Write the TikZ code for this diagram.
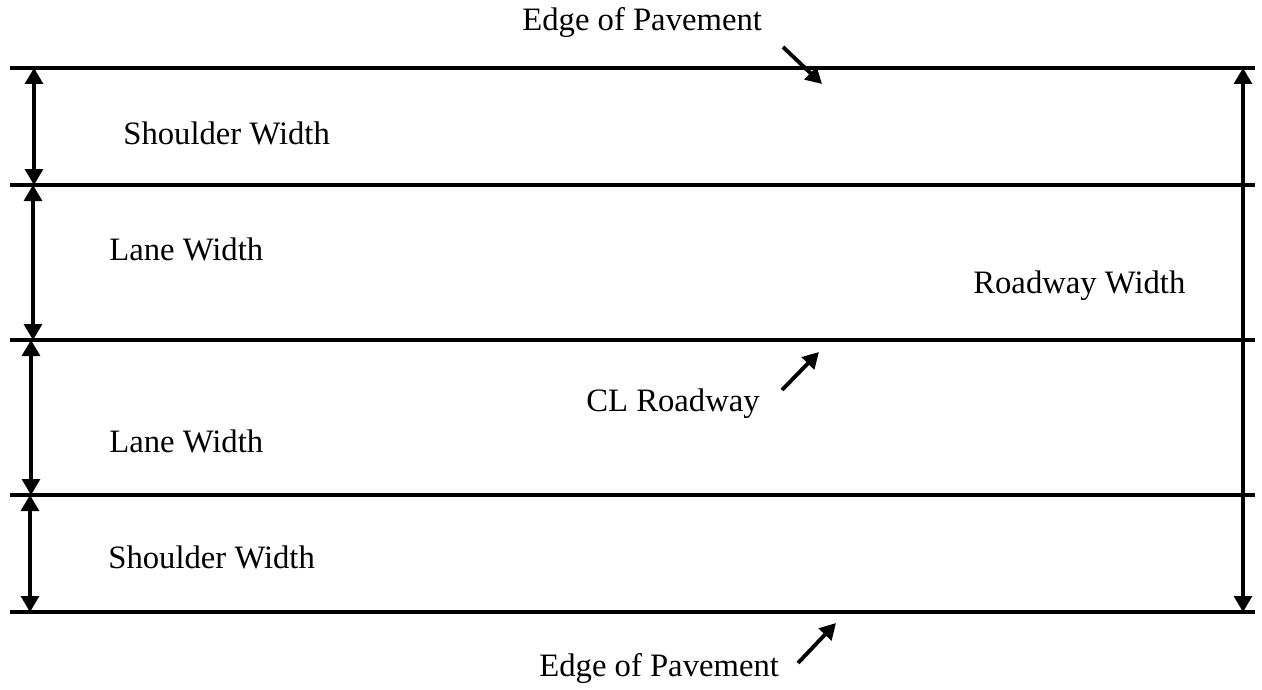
\documentclass[tikz,border=0pt]{standalone}
\usepackage{fontspec}
\setmainfont{Liberation Serif}
\usetikzlibrary{arrows.meta}

\tikzset{
  road/.style={line width=2.2pt},
  dim/.style={line width=1.8pt,{Triangle[length=0.32cm,width=0.36cm]}-{Triangle[length=0.32cm,width=0.36cm]}},
  pointer/.style={line width=2.2pt,-{Triangle[length=0.32cm,width=0.34cm]}},
  lbl/.style={font=\fontsize{18.6}{22}\selectfont,inner sep=0pt}
}

\begin{document}
\begin{tikzpicture}[x=0.02cm,y=-0.02cm]
\useasboundingbox (0,0) rectangle (1262,690);
% edges of the strips
\draw[road] (10,68) -- (1255,68);
\draw[road] (10,185) -- (1255,185);
\draw[road] (10,340) -- (1255,340);
\draw[road] (10,495) -- (1255,495);
\draw[road] (10,612) -- (1255,612);
% dimension points
\coordinate (s1a) at (34,68);
\coordinate (s1b) at (34,185);
\coordinate (l1a) at (33,185);
\coordinate (l1b) at (33,340);
\coordinate (l2a) at (31,340);
\coordinate (l2b) at (31,495);
\coordinate (s2a) at (30,495);
\coordinate (s2b) at (30,612);
\coordinate (rwa) at (1243,68);
\coordinate (rwb) at (1243,612);
\draw[dim] (s1a) -- (s1b);
\draw[dim] (l1a) -- (l1b);
\draw[dim] (l2a) -- (l2b);
\draw[dim] (s2a) -- (s2b);
\draw[dim] (rwa) -- (rwb);
% labels
\node[lbl,anchor=west] (shtop) at (123,133) {Shoulder Width};
\node[lbl,anchor=west] (lntop) at (109,249) {Lane Width};
\node[lbl,anchor=west] (lnbot) at (109,441) {Lane Width};
\node[lbl,anchor=west] (shbot) at (108,557) {Shoulder Width};
\node[lbl,anchor=west] (rdw) at (973,286) {Roadway Width};
\node[lbl,anchor=west] (clr) at (586,404) {CL Roadway};
\node[lbl,anchor=west] (eoptop) at (522,23) {Edge of Pavement};
\node[lbl,anchor=west] (eopbot) at (539,669) {Edge of Pavement};
% pointers
\coordinate (p1a) at (783,47);
\coordinate (p1b) at (822,84);
\coordinate (p2a) at (782,390);
\coordinate (p2b) at (819,352);
\coordinate (p3a) at (798,663);
\coordinate (p3b) at (836,623);
\draw[pointer] (p1a) -- (p1b);
\draw[pointer] (p2a) -- (p2b);
\draw[pointer] (p3a) -- (p3b);
\end{tikzpicture}
\end{document}
